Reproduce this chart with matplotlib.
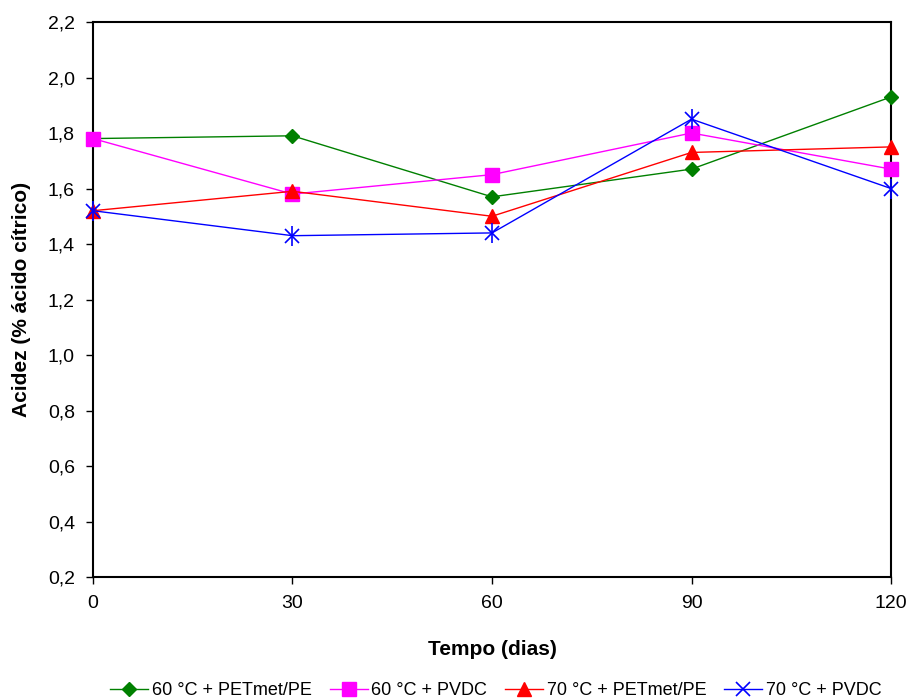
import matplotlib
matplotlib.use("Agg")
import matplotlib.pyplot as plt
from matplotlib.ticker import FuncFormatter

plt.rcParams['font.family'] = ['Liberation Sans', 'DejaVu Sans']

# dados
dias = [0, 30, 60, 90, 120]
pet60 = [1.78, 1.79, 1.57, 1.67, 1.93]
pvdc60 = [1.78, 1.58, 1.65, 1.80, 1.67]
pet70 = [1.52, 1.59, 1.50, 1.73, 1.75]
pvdc70 = [1.52, 1.43, 1.44, 1.85, 1.60]
rotulos = ["60 °C + PETmet/PE", "60 °C + PVDC", "70 °C + PETmet/PE", "70 °C + PVDC"]

fig = plt.figure(figsize=(9.15, 6.99), dpi=100)
ax = fig.add_axes([0.1016, 0.1745, 0.8722, 0.794])

ax.plot(dias, pet60, color='green', marker='D', markersize=7, lw=1, label=rotulos[0], clip_on=False, zorder=3)
ax.plot(dias, pvdc60, color='magenta', marker='s', markersize=10, lw=1, label=rotulos[1], clip_on=False, zorder=3)
ax.plot(dias, pet70, color='red', marker='^', markersize=10, lw=1, label=rotulos[2], clip_on=False, zorder=3)
ax.plot(dias, pvdc70, color='blue', marker='x', markersize=10, mew=1.2, lw=1, label=rotulos[3], clip_on=False, zorder=3)
# segundo traço do asterisco
ax.plot(dias, pvdc70, color='blue', marker='|', markersize=14, mew=1.2, lw=0, clip_on=False, zorder=3)

ax.set_xlim(0, 120)
ax.set_ylim(0.2, 2.2)
ax.set_xticks(dias)
ax.set_yticks([0.2, 0.4, 0.6, 0.8, 1.0, 1.2, 1.4, 1.6, 1.8, 2.0, 2.2])
ax.yaxis.set_major_formatter(FuncFormatter(lambda v, p: f"{v:.1f}".replace('.', ',')))
ax.tick_params(labelsize=14, direction='out', length=5, width=1, pad=8)
for s in ax.spines.values():
    s.set_linewidth(1.5)

ax.set_xlabel("Tempo (dias)", fontsize=15, fontweight='bold', labelpad=20)
ax.set_ylabel("Acidez (% ácido cítrico)", fontsize=15, fontweight='bold', labelpad=12)

leg = ax.legend(loc='upper center', bbox_to_anchor=(0.505, -0.16), ncol=4, frameon=False,
                fontsize=13, handlelength=2.1, handletextpad=0.2, columnspacing=1.0)

fig.savefig("out.png", dpi=100)
